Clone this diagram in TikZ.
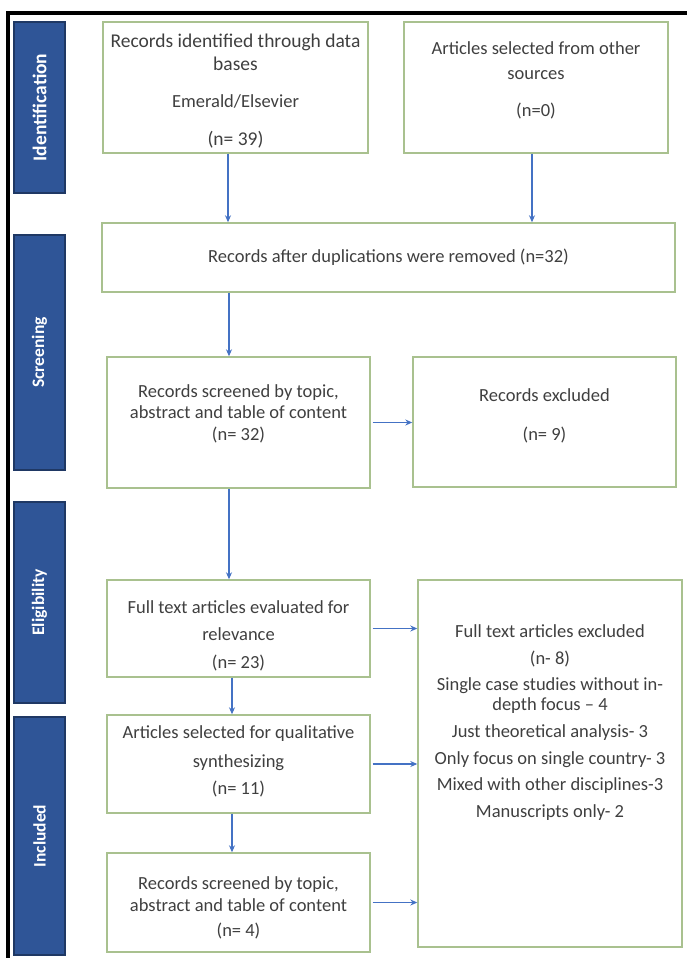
\documentclass[tikz,border=0pt]{standalone}
\usepackage{fontspec}
\setmainfont{Carlito}
\usepackage{xcolor}
\usetikzlibrary{arrows.meta}
\definecolor{boxgreen}{HTML}{A9C18F}
\definecolor{flowblue}{HTML}{4472C4}
\definecolor{phaseblue}{HTML}{2F5597}
\definecolor{phaseedge}{HTML}{1F3864}
\definecolor{textgray}{HTML}{3F3F3F}

\begin{document}
\begin{tikzpicture}[x=1pt,y=-1pt,
phase/.style={rectangle,draw=phaseedge,fill=phaseblue,line width=1.2pt,rotate=90,
  minimum height=51pt,inner sep=0pt,text=white,font=\bfseries\fontsize{17.5}{19}\selectfont},
flow/.style={draw=flowblue,line width=1.5pt,-{Stealth[length=7pt,width=6pt]}}]
\tikzstyle{box}=[rectangle,draw=boxgreen,line width=1.4pt,align=center,text=textgray,
  inner sep=0pt,font=\fontsize{18.5}{21.5}\selectfont]
\useasboundingbox (0,0) rectangle (687,958);
\draw[line width=3.5pt] (8,958) |- (687,13);

\node[phase,minimum width=171pt,font=\bfseries\fontsize{19.5}{21}\selectfont] (ident) at (39.5,107.5) {Identification};
\node[phase,minimum width=235pt] (screening) at (39.5,352.5) {Screening};
\node[phase,minimum width=201pt] (elig) at (39.5,602.5) {Eligibility};
\node[phase,minimum width=238pt] (incl) at (39.5,836) {Included};

\node[box,minimum width=265pt,minimum height=131pt,font=\fontsize{19.5}{21.5}\selectfont] (dbrec) at (235.5,87.5)
  {\mbox{}\\Records identified through data\\[1.5pt]bases\\[15.5pt]{\fontsize{18.5}{21.5}\selectfont Emerald/Elsevier}\\[16.5pt](n= 39)};
\node[box,minimum width=264pt,minimum height=131pt] (other) at (536,87.5)
  {Articles selected from other\\[3.5pt]sources\\[15.5pt](n=0)\\[-4pt]\mbox{}};
\node[box,minimum width=573pt,minimum height=69pt] (dedup) at (388.5,257.5)
  {Records after duplications were removed (n=32)};
\node[box,minimum width=263pt,minimum height=131pt] (screen) at (238.5,422.5)
  {Records screened by topic,\\abstract and table of content\\(n= 32)\\[-1pt]\mbox{}};
\node[box,minimum width=263pt,minimum height=130pt] (excl) at (544.5,422)
  {Records excluded\\[17.5pt](n= 9)\\[-6pt]\mbox{}};
\node[box,minimum width=263pt,minimum height=97pt] (fulltext) at (238.5,628.5)
  {\mbox{}\\[7pt]Full text articles evaluated for\\[5.5pt]relevance\\[6.5pt](n= 23)};
\node[box,minimum width=263pt,minimum height=98pt] (qual) at (238.5,764)
  {Articles selected for qualitative\\[7pt]synthesizing\\[6pt](n= 11)\\[-14pt]\mbox{}};
\node[box,minimum width=263pt,minimum height=99pt] (final) at (238.5,902.5)
  {\mbox{}\\[2.5pt]Records screened by topic,\\[0.5pt]abstract and table of content\\[3.5pt](n= 4)};
\node[box,minimum width=264pt,minimum height=367pt] (fexcl) at (550,763.5)
  {\mbox{}\\[-14pt]Full text articles excluded\\[5.5pt](n- 8)\\[4.5pt]Single case studies without in-\\[-1.5pt]depth focus -- 4\\[5.5pt]Just theoretical analysis- 3\\[5.5pt]Only focus on single country- 3\\[4.5pt]Mixed with other disciplines-3\\[5.5pt]Manuscripts only- 2\\[59pt]\mbox{}};

\draw[flow] ([xshift=-7.5pt]dbrec.south) -- ([xshift=-7.5pt]dbrec.south |- dedup.north);
\draw[flow] ([xshift=-4pt]other.south) -- ([xshift=-4pt]other.south |- dedup.north);
\draw[flow] ([xshift=-9.5pt]screen.north |- dedup.south) -- ([xshift=-9.5pt]screen.north);
\draw[flow] ([xshift=-9.5pt]screen.south) -- ([xshift=-9.5pt]fulltext.north);
\draw[flow] ([xshift=-6.5pt]fulltext.south) -- ([xshift=-6.5pt]qual.north);
\draw[flow] ([xshift=-6.5pt]qual.south) -- ([xshift=-6.5pt]final.north);
\draw[flow] ([xshift=2pt]screen.east) -- (screen.east -| excl.west);
\draw[flow] ([xshift=2pt]fulltext.east) -- (fulltext.east -| fexcl.west);
\draw[flow] ([xshift=2pt]qual.east) -- (qual.east -| fexcl.west);
\draw[flow] ([xshift=2pt]final.east) -- (final.east -| fexcl.west);
\end{tikzpicture}
\end{document}
